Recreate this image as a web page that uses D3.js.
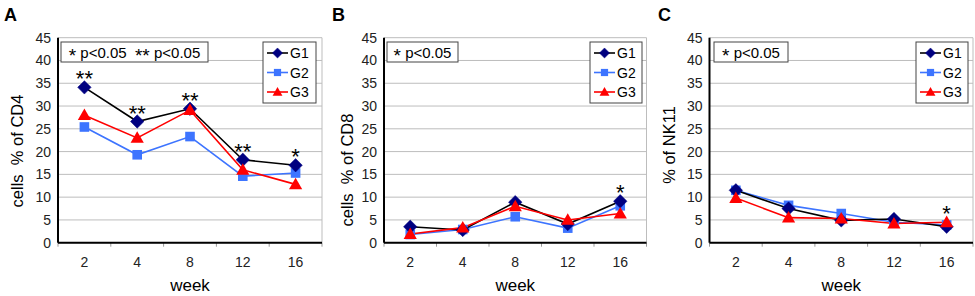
<!DOCTYPE html>
<html>
<head>
<meta charset="utf-8">
<script src="https://cdn.jsdelivr.net/npm/d3@7"></script>
<style>
  body { margin: 0; background: #fff; }
  text { font-family: Arial, "Liberation Sans", sans-serif; }
</style>
</head>
<body>
<div id="graph"></div>
<script>
const width = 975,
  height = 296;

// data
const weeks = ["2", "4", "8", "12", "16"];
const groups = ["G1", "G2", "G3"];
const yTicks = [0, 5, 10, 15, 20, 25, 30, 35, 40, 45];

const cd4G1 = [34.1, 26.6, 29.4, 18.2, 17.0];
const cd4G2 = [25.4, 19.3, 23.3, 14.6, 15.3];
const cd4G3 = [28.0, 23.0, 29.1, 16.0, 12.8];
const cd4Stars = ["**", "**", "**", "**", "*"];

const cd8G1 = [3.5, 2.8, 8.9, 4.1, 9.1];
const cd8G2 = [1.8, 2.9, 5.7, 3.2, 8.1];
const cd8G3 = [1.9, 3.3, 8.0, 5.0, 6.4];
const cd8Stars = ["", "", "", "", "*"];

const nkG1 = [11.5, 7.5, 4.9, 5.2, 3.5];
const nkG2 = [11.5, 8.2, 6.4, 4.5, 3.9];
const nkG3 = [9.8, 5.5, 5.3, 4.2, 4.5];
const nkStars = ["", "", "", "", "*"];

// note boxes: pairs of [stars, text]
const noteA = [["*", " p<0.05  "], ["**", " p<0.05"]];
const noteBC = [["*", " p<0.05"]];

const colors = { G1: "#000080", G2: "#3D74FF", G3: "#FF0000" };
const lineColors = { G1: "#000000", G2: "#3D74FF", G3: "#FF0000" };

const panels = [
  { tag: "A", tagX: 4, left: 58, right: 322, ylabel: "cells  % of CD4", ylabX: 17, ylabY: 151,
    note: noteA, noteBox: [61, 208], legend: [263, 316],
    series: [cd4G1, cd4G2, cd4G3], stars: cd4Stars },
  { tag: "B", tagX: 332, left: 384, right: 646.5, ylabel: "cells  % of CD8", ylabX: 347, ylabY: 170,
    note: noteBC, noteBox: [387, 458], legend: [590, 642],
    series: [cd8G1, cd8G2, cd8G3], stars: cd8Stars },
  { tag: "C", tagX: 658, left: 709.5, right: 973, ylabel: "% of NK11", ylabX: 669, ylabY: 145,
    note: noteBC, noteBox: [714, 788], legend: [916, 968],
    series: [nkG1, nkG2, nkG3], stars: nkStars }
];

const plotTop = 37.7, plotBottom = 242.7;

const svg = d3.select("#graph").append("svg")
  .attr("width", width)
  .attr("height", height);

const y = d3.scaleLinear().domain([0, 45]).range([plotBottom, plotTop]);

function marker(g, name, size) {
  if (name === "G1") {
    return g.append("path").attr("d", d3.symbol(d3.symbolDiamond2, size * size * 0.8)())
      .attr("fill", colors.G1).attr("stroke", colors.G1).attr("stroke-width", 0.5);
  } else if (name === "G2") {
    return g.append("rect").attr("x", -size / 2 * 0.8).attr("y", -size / 2 * 0.8)
      .attr("width", size * 0.8).attr("height", size * 0.8).attr("fill", colors.G2);
  }
  const s = size * 0.55;
  return g.append("path").attr("d", `M0,${-s}L${s},${s * 0.75}L${-s},${s * 0.75}Z`)
    .attr("fill", colors.G3);
}

panels.forEach(p => {
  const g = svg.append("g");
  const x = d3.scaleBand().domain(weeks).range([p.left, p.right]);

  g.append("text").attr("x", p.tagX).attr("y", 21)
    .attr("font-size", 18).attr("font-weight", "bold").text(p.tag);

  // grid
  g.selectAll(".grid").data(yTicks).join("line")
    .attr("x1", p.left).attr("x2", p.right)
    .attr("y1", d => y(d)).attr("y2", d => y(d))
    .attr("stroke", "#bdbdbd").attr("stroke-width", 1);
  g.append("line").attr("x1", p.right).attr("x2", p.right)
    .attr("y1", plotTop).attr("y2", plotBottom).attr("stroke", "#bdbdbd");

  // y tick labels
  g.selectAll(".yt").data(yTicks).join("text")
    .attr("x", p.left - 7).attr("y", d => y(d) + 5)
    .attr("text-anchor", "end").attr("font-size", 14).attr("fill", "#222")
    .text(d => d);

  // x ticks
  const bounds = weeks.map(w => x(w)).concat([p.right]);
  g.selectAll(".xt").data(bounds).join("line")
    .attr("x1", d => d).attr("x2", d => d)
    .attr("y1", plotBottom).attr("y2", plotBottom + 4)
    .attr("stroke", "#999");
  g.selectAll(".xl").data(weeks).join("text")
    .attr("x", d => x(d) + x.bandwidth() / 2).attr("y", 267)
    .attr("text-anchor", "middle").attr("font-size", 14).attr("fill", "#222")
    .text(d => d);

  // axes
  g.append("line").attr("x1", p.left).attr("x2", p.right)
    .attr("y1", plotBottom).attr("y2", plotBottom).attr("stroke", "#000").attr("stroke-width", 2);
  g.append("line").attr("x1", p.left).attr("x2", p.left)
    .attr("y1", plotTop).attr("y2", plotBottom).attr("stroke", "#000").attr("stroke-width", 2);

  g.append("text").attr("x", x("8") + x.bandwidth() / 2).attr("y", 291)
    .attr("text-anchor", "middle").attr("font-size", 17).text("week");
  g.append("text")
    .attr("transform", `translate(${p.ylabX + 6},${p.ylabY}) rotate(-90)`)
    .attr("text-anchor", "middle").attr("font-size", 16.5).attr("xml:space", "preserve")
    .text(p.ylabel);

  // lines + markers (G3 drawn last, on top)
  const line = d3.line()
    .x((d, i) => x(weeks[i]) + x.bandwidth() / 2)
    .y(d => y(d));
  const order = [1, 0, 2];
  order.forEach(k => {
    const name = groups[k];
    g.append("path").datum(p.series[k]).attr("d", line)
      .attr("fill", "none").attr("stroke", lineColors[name]).attr("stroke-width", 1.6);
  });
  order.forEach(k => {
    const name = groups[k];
    p.series[k].forEach((v, i) => {
      const mg = g.append("g")
        .attr("transform", `translate(${x(weeks[i]) + x.bandwidth() / 2},${y(v)})`);
      marker(mg, name, 12);
    });
  });

  // significance stars above the highest point
  g.selectAll(".star").data(p.stars).join("text")
    .attr("x", (d, i) => x(weeks[i]) + x.bandwidth() / 2)
    .attr("y", (d, i) => y(d3.max(p.series, s => s[i])) - 1)
    .attr("text-anchor", "middle").attr("font-size", 22)
    .text(d => d);

  // note box
  g.append("rect").attr("x", p.noteBox[0]).attr("y", 42)
    .attr("width", p.noteBox[1] - p.noteBox[0]).attr("height", 20)
    .attr("fill", "#fff").attr("stroke", "#444");
  const nt = g.append("text").attr("x", (p.noteBox[0] + p.noteBox[1]) / 2).attr("y", 57.5)
    .attr("text-anchor", "middle").attr("font-size", 15).attr("xml:space", "preserve");
  p.note.forEach(([st, txt]) => {
    nt.append("tspan").attr("font-size", 19).attr("dy", 4).text(st);
    nt.append("tspan").attr("dy", -4).text(txt);
  });

  // legend
  const lg = g.append("g");
  lg.append("rect").attr("x", p.legend[0]).attr("y", 42)
    .attr("width", p.legend[1] - p.legend[0]).attr("height", 61)
    .attr("fill", "#fff").attr("stroke", "#444");
  groups.forEach((name, k) => {
    const ly = 53 + k * 19.5;
    lg.append("line").attr("x1", p.legend[0] + 4).attr("x2", p.legend[0] + 25)
      .attr("y1", ly).attr("y2", ly).attr("stroke", lineColors[name]).attr("stroke-width", 1.6);
    const mg = lg.append("g").attr("transform", `translate(${p.legend[0] + 14.5},${ly})`);
    marker(mg, name, 9);
    lg.append("text").attr("x", p.legend[0] + 27).attr("y", ly + 5)
      .attr("font-size", 14).text(name);
  });
});
</script>
</body>
</html>
